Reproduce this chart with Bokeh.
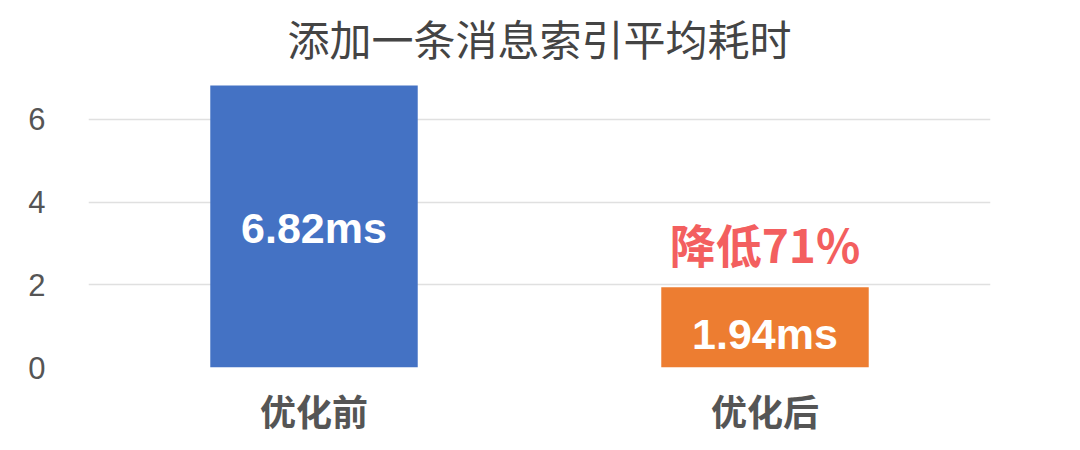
from bokeh.plotting import figure
from bokeh.models import FactorRange, Range1d, ColumnDataSource, FixedTicker
from bokeh.core.properties import value
from bokeh.embed import file_html
from bokeh.resources import INLINE

# data
categories = ["优化前", "优化后"]
times_ms = [6.82, 1.94]
bar_colors = ["#4472C4", "#ED7D31"]
value_labels = ["6.82ms", "1.94ms"]
label_values = [3.37, 0.82]
note_text = "降低71%"
note_value = 3.0
y_ticks = [0, 2, 4, 6]
title_text = "添加一条消息索引平均耗时"

CJK = "Noto Sans CJK SC"

p = figure(
    width=1064, height=438,
    x_range=FactorRange(factors=categories, range_padding=0),
    y_range=Range1d(0, 7.16),
    output_backend="svg", toolbar_location=None,
    min_border_left=88, min_border_right=74, min_border_bottom=0, min_border_top=0,
)
p.title.text = title_text
p.title.align = "center"
p.title.text_font = CJK
p.title.text_font_size = "42px"
p.title.text_font_style = "normal"
p.title.text_color = "#444444"
p.title.standoff = 8

src = ColumnDataSource(dict(
    cat=categories, val=times_ms, color=bar_colors, label=value_labels,
    label_y=label_values,
))
p.vbar(x="cat", top="val", width=0.46, color="color", source=src, line_color=None)
p.text(x="cat", y="label_y", text="label", source=src, text_color="white",
       text_font=value("Liberation Sans"), text_font_size="43px", text_font_style="bold",
       text_align="center", text_baseline="middle")
p.text(x=[categories[1]], y=[note_value], text=[note_text], text_color="#F35F5F",
       text_font=value(CJK), text_font_size="46px", text_font_style="bold",
       text_align="center", text_baseline="middle")

p.outline_line_color = None
p.xgrid.grid_line_color = None
p.ygrid.grid_line_color = "#E0E0E0"
p.ygrid.grid_line_width = 1.5
p.yaxis.ticker = FixedTicker(ticks=y_ticks)
for ax in (p.xaxis, p.yaxis):
    ax.axis_line_color = None
    ax.major_tick_line_color = None
    ax.minor_tick_line_color = None
p.yaxis.major_label_text_font = "Liberation Sans"
p.yaxis.major_label_text_font_size = "31px"
p.yaxis.major_label_text_color = "#555555"
p.yaxis.major_label_standoff = 37
p.xaxis.major_label_text_font = CJK
p.xaxis.major_label_text_font_size = "36px"
p.xaxis.major_label_text_font_style = "bold"
p.xaxis.major_label_text_color = "#555555"
p.xaxis.major_label_standoff = 10

open("out.html", "w").write(file_html(p, INLINE))
